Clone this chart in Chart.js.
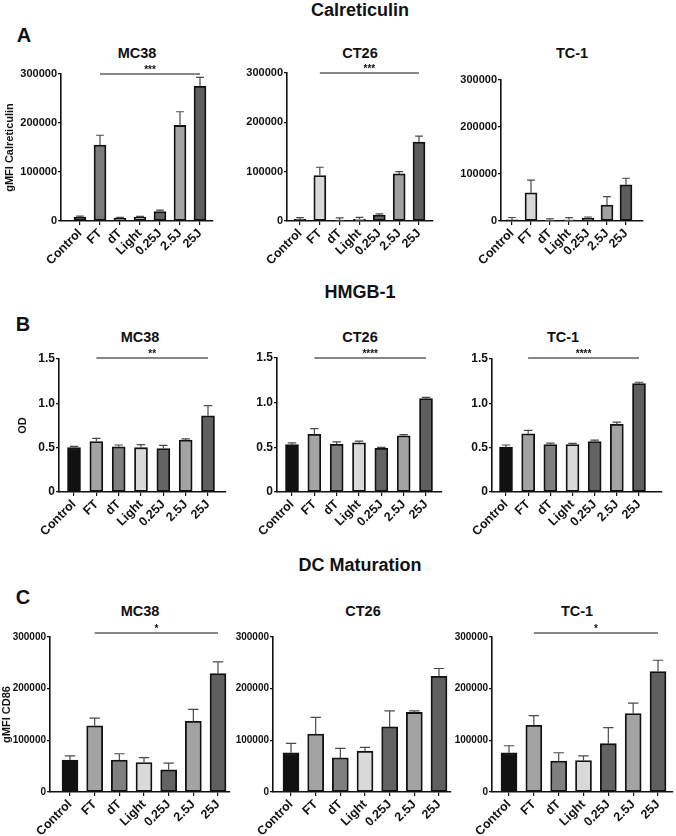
<!DOCTYPE html>
<html>
<head>
<meta charset="utf-8">
<script src="https://cdn.jsdelivr.net/npm/chart.js@4"></script>
<style>
  body { margin:0; background:#fff; width:676px; height:836px; position:relative; overflow:hidden;
         font-family:"Liberation Sans", Arial, sans-serif; color:#111; }
  canvas { position:absolute; }
  .lbl { position:absolute; transform:translate(-50%,-50%); font-weight:bold; white-space:nowrap; }
  .sec { font-size:18px; }
  .let { font-size:20px; }
  .ttl { font-size:14.5px; }
</style>
</head>
<body>
<div class="lbl sec" style="left:360px;top:10px">Calreticulin</div>
<div class="lbl sec" style="left:360px;top:292px">HMGB-1</div>
<div class="lbl sec" style="left:360px;top:565px">DC Maturation</div>
<div class="lbl let" style="left:24px;top:35px">A</div>
<div class="lbl let" style="left:23px;top:324px">B</div>
<div class="lbl let" style="left:23px;top:597px">C</div>
<div class="lbl ttl" style="left:137px;top:53px">MC38</div>
<div class="lbl ttl" style="left:360px;top:53px">CT26</div>
<div class="lbl ttl" style="left:572px;top:53px">TC-1</div>
<div class="lbl ttl" style="left:140px;top:337px">MC38</div>
<div class="lbl ttl" style="left:360px;top:337px">CT26</div>
<div class="lbl ttl" style="left:563px;top:337px">TC-1</div>
<div class="lbl ttl" style="left:140px;top:611px">MC38</div>
<div class="lbl ttl" style="left:363px;top:611px">CT26</div>
<div class="lbl ttl" style="left:577px;top:611px">TC-1</div>
<script>
const groups = ['Control', 'FT', 'dT', 'Light', '0.25J', '2.5J', '25J'];

// A - Calreticulin (gMFI), mean and SEM
const calMC38 = [8000, 155000, 6000, 8000, 19000, 195000, 275000];
const calMC38Sem = [2000, 20000, 1500, 1500, 3000, 28000, 18000];
const calCT26 = [3500, 92000, 2000, 3500, 12000, 95500, 160000];
const calCT26Sem = [3500, 17000, 4500, 4000, 2500, 4500, 12000];
const calTC1 = [2500, 60000, 1500, 2500, 6000, 34000, 77000];
const calTC1Sem = [5000, 27000, 3000, 4500, 2500, 18000, 14000];

// B - HMGB-1 (OD)
const hmgMC38 = [0.50, 0.57, 0.51, 0.50, 0.49, 0.585, 0.86];
const hmgMC38Sem = [0.015, 0.035, 0.02, 0.035, 0.035, 0.015, 0.115];
const hmgCT26 = [0.53, 0.645, 0.535, 0.55, 0.49, 0.63, 1.045];
const hmgCT26Sem = [0.02, 0.065, 0.025, 0.02, 0.01, 0.012, 0.015];
const hmgTC1 = [0.506, 0.656, 0.536, 0.534, 0.57, 0.765, 1.222];
const hmgTC1Sem = [0.024, 0.038, 0.015, 0.014, 0.015, 0.022, 0.016];

// C - DC maturation (gMFI CD86)
const cd86MC38 = [62000, 128000, 62000, 57000, 43000, 137000, 229000];
const cd86MC38Sem = [8000, 15000, 12000, 9500, 13000, 23000, 23000];
const cd86CT26 = [76000, 112000, 66000, 79000, 126000, 154000, 224000];
const cd86CT26Sem = [18000, 32500, 18500, 7500, 31000, 3000, 15000];
const cd86TC1 = [76000, 129000, 60000, 61000, 93500, 152000, 233000];
const cd86TC1Sem = [13500, 19000, 16000, 9000, 31000, 20000, 22000];

// significance (FT vs 25J)
const calStars = ['***', '***', ''];
const hmgStars = ['**', '****', '****'];
const cd86Stars = ['*', '', '*'];

const gmfiTicks = [0, 100000, 200000, 300000];
const odTicks = [0, 0.5, 1.0, 1.5];

const fillsCalMC38 = ['#1e1e1e', '#7a7a7a', '#858585', '#d2d2d2', '#646464', '#a4a4a4', '#5e5e5e'];
const fillsCal = ['#1e1e1e', '#d9d9d9', '#858585', '#d2d2d2', '#646464', '#a0a0a0', '#5c5c5c'];
const fillsRest = ['#111111', '#a3a3a3', '#7f7f7f', '#d9d9d9', '#636363', '#a3a3a3', '#5f5f5f'];

Chart.defaults.font.family = '"Liberation Sans", Arial, sans-serif';
Chart.defaults.color = '#111';

const extras = {
  id: 'extras',
  afterDatasetsDraw(chart, args, o) {
    const ctx = chart.ctx, ys = chart.scales.y, xs = chart.scales.x;
    const meta = chart.getDatasetMeta(0);
    ctx.save();
    ctx.strokeStyle = '#4a4a4a';
    ctx.lineWidth = 1.2;
    o.sem.forEach((e, i) => {
      const x = meta.data[i].x;
      const y0 = ys.getPixelForValue(o.mean[i]);
      const y1 = ys.getPixelForValue(o.mean[i] + e);
      const c = o.capW / 2;
      ctx.beginPath();
      ctx.moveTo(x, y0); ctx.lineTo(x, y1);
      ctx.moveTo(x - c, y1); ctx.lineTo(x + c, y1);
      ctx.stroke();
    });
    if (o.stars) {
      const x1 = xs.getPixelForValue(1), x2 = xs.getPixelForValue(6);
      const y = chart.chartArea.top - o.lift;
      ctx.strokeStyle = '#111';
      ctx.beginPath(); ctx.moveTo(x1, y); ctx.lineTo(x2, y); ctx.stroke();
      ctx.fillStyle = '#111';
      ctx.font = 'bold 10px "Liberation Sans", Arial';
      ctx.textAlign = 'center';
      ctx.fillText(o.stars, (x1 + x2) / 2, y - 1);
    }
    ctx.restore();
  }
};

const YW = 62;
function panel(p) {
  const cv = document.createElement('canvas');
  const cx = p.L - YW, cy = p.top - 30;
  cv.width = p.R - cx + 8;
  cv.height = p.zero - cy + 52;
  cv.style.left = cx + 'px';
  cv.style.top = cy + 'px';
  document.body.appendChild(cv);
  const step = (p.c6 - p.c0) / 6;
  const axisGrid = { display: true, drawOnChartArea: false, drawTicks: true, tickLength: 4, color: '#111', lineWidth: 1.2, offset: false };
  const axisBorder = { display: true, color: '#111', width: 1.6 };
  new Chart(cv, {
    type: 'bar',
    data: {
      datasets: [{
        data: p.mean.map((v, i) => ({ x: i, y: v })),
        backgroundColor: p.fills,
        borderColor: '#111',
        borderWidth: 1.8,
        borderSkipped: false,
        barThickness: p.barW
      }]
    },
    options: {
      responsive: false,
      animation: false,
      layout: { autoPadding: false, padding: { top: 30, right: 8, left: 0, bottom: 0 } },
      plugins: {
        legend: { display: false },
        tooltip: { enabled: false },
        extras: { mean: p.mean, sem: p.sem, stars: p.stars, capW: p.barW * 0.65, lift: p.lift }
      },
      scales: {
        x: {
          type: 'linear', offset: false,
          min: (p.L - p.c0) / step, max: (p.R - p.c0) / step,
          afterBuildTicks: s => { s.ticks = groups.map((g, i) => ({ value: i })); },
          afterFit: s => { s.height = 52; },
          grid: axisGrid, border: axisBorder,
          ticks: { autoSkip: false, minRotation: 45, maxRotation: 45, padding: 1,
                   font: { size: 12.5, weight: 'bold' }, callback: v => groups[v] }
        },
        y: {
          min: 0, max: p.ticks[p.ticks.length - 1],
          afterBuildTicks: s => { s.ticks = p.ticks.map(v => ({ value: v })); },
          afterFit: s => { s.width = YW; },
          grid: Object.assign({}, axisGrid, { tickLength: 3 }), border: axisBorder,
          ticks: { padding: 1, font: { size: p.yFont, weight: 'bold' },
                   callback: v => p.od ? (v === 0 ? '0' : v.toFixed(1)) : String(v) },
          title: { display: !!p.yTitle, text: p.yTitle || '', font: { size: 11, weight: 'bold' },
                   padding: { top: (p.titleX || 0) - cx - 6.6, bottom: 0 } }
        }
      }
    },
    plugins: [extras]
  });
}

// row A
panel({ L: 61, R: 213, top: 74, zero: 221, c0: 80, c6: 200, barW: 12, yFont: 11, ticks: gmfiTicks,
        mean: calMC38, sem: calMC38Sem, stars: calStars[0], fills: fillsCalMC38, lift: 0,
        yTitle: 'gMFI Calreticulin', titleX: 10 });
panel({ L: 287, R: 433, top: 73, zero: 221, c0: 300, c6: 419, barW: 12, yFont: 11, ticks: gmfiTicks,
        mean: calCT26, sem: calCT26Sem, stars: calStars[1], fills: fillsCal, lift: 0 });
panel({ L: 501, R: 643, top: 80, zero: 221, c0: 512, c6: 626, barW: 12, yFont: 11, ticks: gmfiTicks,
        mean: calTC1, sem: calTC1Sem, stars: calStars[2], fills: fillsCal, lift: 0 });
// row B
panel({ L: 59, R: 226, top: 359, zero: 492, c0: 74, c6: 208, barW: 13, yFont: 12, ticks: odTicks, od: true,
        mean: hmgMC38, sem: hmgMC38Sem, stars: hmgStars[0], fills: fillsRest, lift: 1,
        yTitle: 'OD', titleX: 23 });
panel({ L: 277, R: 442, top: 358, zero: 492, c0: 292, c6: 426, barW: 13, yFont: 12, ticks: odTicks, od: true,
        mean: hmgCT26, sem: hmgCT26Sem, stars: hmgStars[1], fills: fillsRest, lift: 0 });
panel({ L: 492, R: 662, top: 359, zero: 492, c0: 506, c6: 639, barW: 13, yFont: 12, ticks: odTicks, od: true,
        mean: hmgTC1, sem: hmgTC1Sem, stars: hmgStars[2], fills: fillsRest, lift: 1 });
// row C
panel({ L: 50, R: 230, top: 637, zero: 792, c0: 70, c6: 218, barW: 16, yFont: 10, ticks: gmfiTicks,
        mean: cd86MC38, sem: cd86MC38Sem, stars: cd86Stars[0], fills: fillsRest, lift: 4,
        yTitle: 'gMFI CD86', titleX: 7 });
panel({ L: 273, R: 451, top: 637, zero: 792, c0: 291, c6: 439, barW: 16, yFont: 10, ticks: gmfiTicks,
        mean: cd86CT26, sem: cd86CT26Sem, stars: cd86Stars[1], fills: fillsRest, lift: 4 });
panel({ L: 492, R: 673, top: 637, zero: 792, c0: 509, c6: 658, barW: 16, yFont: 10, ticks: gmfiTicks,
        mean: cd86TC1, sem: cd86TC1Sem, stars: cd86Stars[2], fills: fillsRest, lift: 4 });
</script>
</body>
</html>
